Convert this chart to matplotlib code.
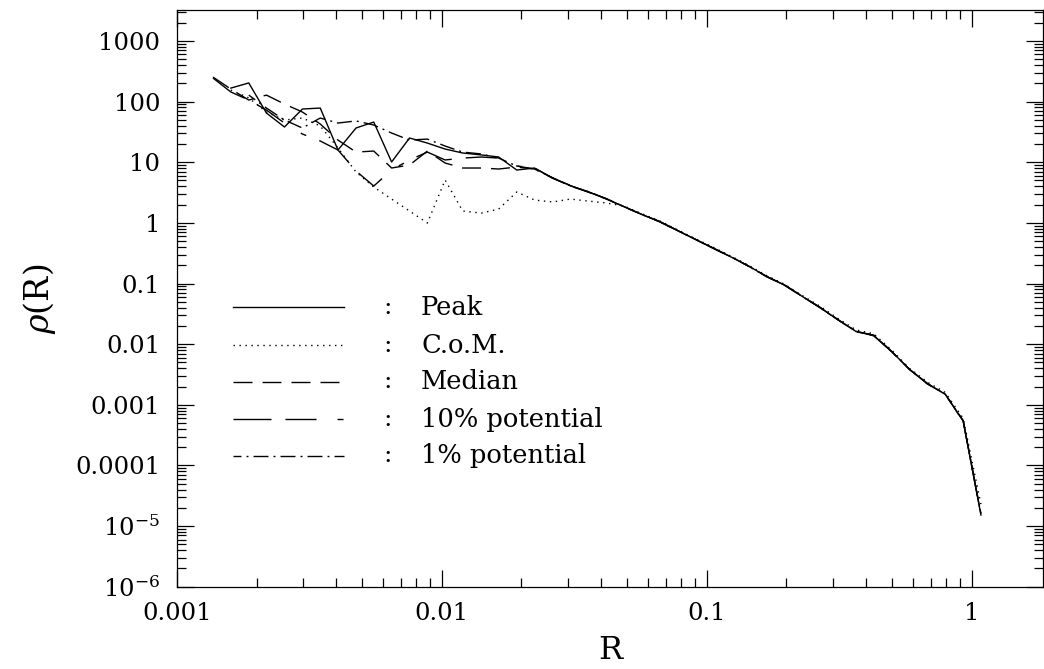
import numpy as np
import matplotlib
matplotlib.use("Agg")
import matplotlib.pyplot as plt
from matplotlib.ticker import FixedLocator, FixedFormatter, NullFormatter, LogLocator

plt.rcParams['font.family'] = 'DejaVu Serif'
plt.rcParams['mathtext.fontset'] = 'dejavuserif'

nan = np.nan

# radial bins
R = [0.00137, 0.00160, 0.00187, 0.00218, 0.00255, 0.00298, 0.00348, 0.00406,
     0.00475, 0.00554, 0.00647, 0.00756, 0.00883, 0.0103, 0.0120, 0.0141,
     0.0164, 0.0192, 0.0224, 0.0262, 0.0306, 0.0357, 0.0417, 0.0487, 0.0568,
     0.0664, 0.0775, 0.0905, 0.106, 0.124, 0.144, 0.168, 0.197, 0.230, 0.268,
     0.313, 0.366, 0.427, 0.499, 0.583, 0.681, 0.795, 0.929, 1.084]

# density profiles for each choice of centre
rho_peak = [nan, 167, 203, 64.8, 38.1, 75.4, 78.3, 15.9, 36.7, 46.0, 10.1,
            25.1, 20.7, 16.5, 14.2, 13.2, 12.2, 7.44, 8.03, 5.51, 4.11, 3.26,
            2.51, 1.85, 1.38, 1.05, 0.751, 0.536, 0.382, 0.272, 0.194, 0.131,
            0.0938, 0.0608, 0.0402, 0.0251, 0.0162, 0.0139, 0.00757, 0.00382,
            0.00223, 0.00149, 0.000541, 1.52e-5]

rho_com = [nan, 155, 115, 67.3, 49.7, 53.6, 39.6, 17.2, 6.90, 3.90, 2.47,
           1.57, 0.995, 5.09, 1.57, 1.45, 1.69, 3.23, 2.38, 2.21, 2.47, 2.29,
           2.13, 1.90, 1.42, 1.08, 0.77, 0.55, 0.395, 0.280, 0.200, 0.136,
           0.097, 0.063, 0.042, 0.0265, 0.0172, 0.0148, 0.0080, 0.0040,
           0.00236, 0.00160, 0.000600, 2.3e-5]

rho_median = [254, 161, 106, 128, 91.2, 67.3, 42.7, 23.2, 14.7, 15.3, 8.03,
              9.00, 15.3, 9.71, 8.03, 8.03, 7.73, 8.34, 7.73, 5.50, 4.05,
              3.22, 2.49, 1.84, 1.39, 1.04, 0.745, 0.540, 0.378, 0.275,
              0.192, 0.132, 0.0930, 0.0612, 0.0398, 0.0255, 0.0160, 0.0141,
              0.00750, 0.00385, 0.00220, 0.00151, 0.000530, 1.60e-5]

rho_pot10 = [245, 144, 106, 72.6, 44.3, 29.2, 22.4, 15.9, 7.17, 4.05, 7.44,
             10.9, 14.7, 10.9, 11.7, 12.2, 11.7, 8.66, 8.03, 5.45, 4.15,
             3.25, 2.52, 1.86, 1.37, 1.06, 0.755, 0.532, 0.385, 0.270,
             0.195, 0.130, 0.0945, 0.0605, 0.0405, 0.0248, 0.0165, 0.0137,
             0.00760, 0.00380, 0.00225, 0.00148, 0.000550, 1.55e-5]

rho_pot1 = [nan, nan, 128, 78.3, 49.7, 36.7, 53.6, 44.3, 48.0, 41.1, 30.3,
            23.2, 24.1, 18.5, 14.7, 13.7, 11.7, 8.66, 7.73, 5.55, 4.08,
            3.28, 2.50, 1.86, 1.38, 1.05, 0.748, 0.538, 0.380, 0.273,
            0.193, 0.131, 0.0940, 0.0610, 0.0400, 0.0252, 0.0163, 0.0140,
            0.00755, 0.00383, 0.00222, 0.00150, 0.000545, 1.58e-5]

names = ["Peak", "C.o.M.", "Median", "10% potential", "1% potential"]
profiles = [rho_peak, rho_com, rho_median, rho_pot10, rho_pot1]

px = 0.72  # points per pixel at 100 dpi
styles = ["-",
          (0, (1.0, 3.3)),
          (0, (19 * px, 10 * px)),
          (0, (38 * px, 14 * px, 31 * px, 21 * px, 6 * px, 14 * px)),
          (7 * px, (15 * px, 5 * px, 2 * px, 5 * px))]

xticks = [0.001, 0.01, 0.1, 1]
xticklabels = ["0.001", "0.01", "0.1", "1"]
yticks = [1e-6, 1e-5, 1e-4, 1e-3, 1e-2, 0.1, 1, 10, 100, 1000]
yticklabels = [r"$10^{-6}$", r"$10^{-5}$", "0.0001", "0.001", "0.01", "0.1",
               "1", "10", "100", "1000"]

fig = plt.figure(figsize=(10.44, 6.69), dpi=100)
ax = fig.add_axes([0.1693, 0.1230, 0.8298, 0.862])

for rho, ls in zip(profiles, styles):
    ax.plot(R, rho, color="black", lw=1.0, linestyle=ls)

ax.set_xscale("log")
ax.set_yscale("log")
ax.set_xlim(0.001, 1.86)
ax.set_ylim(1e-6, 10 ** 3.51)

ax.xaxis.set_major_locator(FixedLocator(xticks))
ax.xaxis.set_major_formatter(FixedFormatter(xticklabels))
ax.xaxis.set_minor_locator(LogLocator(base=10, subs=np.arange(2, 10), numticks=20))
ax.xaxis.set_minor_formatter(NullFormatter())
ax.yaxis.set_major_locator(FixedLocator(yticks))
ax.yaxis.set_major_formatter(FixedFormatter(yticklabels))
ax.yaxis.set_minor_locator(LogLocator(base=10, subs=np.arange(2, 10), numticks=20))
ax.yaxis.set_minor_formatter(NullFormatter())

ax.tick_params(which="both", direction="in", top=True, right=True,
               width=0.9, labelsize=17.5)
ax.tick_params(which="major", length=12.5)
ax.tick_params(which="minor", length=6.5)
ax.tick_params(axis="x", which="major", pad=11)
ax.tick_params(axis="y", which="major", pad=12)
for sp in ax.spines.values():
    sp.set_linewidth(0.9)

ax.set_xlabel("R", fontsize=23, va="center")
ax.xaxis.set_label_coords(0.5, -0.110)
ax.set_ylabel(r"$\rho$(R)", fontsize=24)
ax.yaxis.set_label_coords(-0.137, 0.5)

# key drawn inside the axes
rows = [0.485, 0.419, 0.355, 0.290, 0.227]
for y, ls, name in zip(rows, styles, names):
    ax.plot([0.065, 0.193], [y, y], transform=ax.transAxes, color="black",
            lw=1.0, linestyle=ls)
    ax.text(0.243, y, ":", transform=ax.transAxes, fontsize=18,
            ha="center", va="center")
    ax.text(0.282, y, name, transform=ax.transAxes, fontsize=18.5,
            ha="left", va="center")

fig.savefig("out.png", dpi=100)
